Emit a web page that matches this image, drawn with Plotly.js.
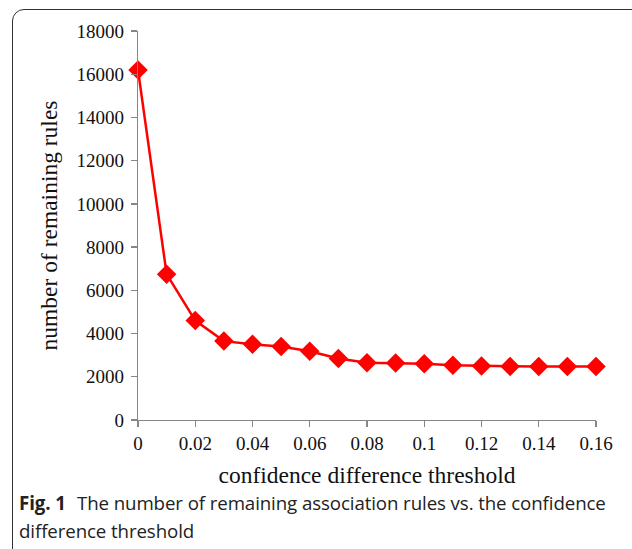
<!DOCTYPE html>
<html><head><meta charset="utf-8">
<script src="https://cdn.plot.ly/plotly-3.0.1.min.js"></script>
<style>
html,body{margin:0;padding:0;background:#fff;}
#wrap{position:relative;width:632px;height:549px;overflow:hidden;}
#frame{position:absolute;left:12px;top:9px;width:700px;height:600px;border:1.3px solid #333;border-radius:12px;box-sizing:border-box;}
#chart{position:absolute;left:0;top:0;}
.cap{position:absolute;font-family:"Open Sans",sans-serif;font-size:18.7px;line-height:28px;color:#222;white-space:nowrap;letter-spacing:-0.1px;}
</style></head>
<body><div id="wrap"><div id="frame"></div><div id="chart"></div>
<span class="cap" style="left:19px;top:489px;font-weight:bold;">Fig. 1</span>
<span class="cap" style="left:77px;top:489px;">The number of remaining association rules vs. the confidence</span>
<span class="cap" style="left:19px;top:517px;">difference threshold</span>
</div>
<script>
const thresholds = [0, 0.01, 0.02, 0.03, 0.04, 0.05, 0.06, 0.07, 0.08, 0.09, 0.10, 0.11, 0.12, 0.13, 0.14, 0.15, 0.16];
const remainingRules = [16200, 6750, 4600, 3650, 3500, 3400, 3180, 2850, 2650, 2640, 2600, 2530, 2500, 2480, 2470, 2470, 2470];
const xTitle = "confidence difference threshold";
const yTitle = "number of remaining rules";

const trace = {
  x: thresholds, y: remainingRules, type: "scatter", mode: "lines+markers",
  line: {color: "#ff0000", width: 2.5},
  marker: {symbol: "diamond", size: 15, color: "#ff0000"},
  cliponaxis: false
};
const serif = "Liberation Serif, Times New Roman, serif";
const axisFont = {family: serif, size: 19, color: "#111"};
const layout = {
  width: 632, height: 549,
  margin: {l: 138, r: 36, t: 31, b: 128.5},
  paper_bgcolor: "rgba(0,0,0,0)", plot_bgcolor: "rgba(0,0,0,0)",
  showlegend: false,
  xaxis: {
    range: [0, 0.16], dtick: 0.02, tick0: 0, showgrid: false, zeroline: false,
    showline: true, linecolor: "#868686", linewidth: 1.3,
    ticks: "outside", ticklen: 6, tickcolor: "#868686", tickwidth: 1.3,
    tickfont: axisFont,
    title: {text: xTitle, font: {family: serif, size: 23.5, color: "#111"}, standoff: 13}
  },
  yaxis: {
    range: [0, 18000], dtick: 2000, tickformat: "d", showgrid: false, zeroline: false,
    showline: true, linecolor: "#868686", linewidth: 1.3,
    ticks: "outside", ticklen: 6, tickcolor: "#868686", tickwidth: 1.3,
    ticklabelstandoff: 3,
    tickfont: axisFont,
    title: {text: yTitle, font: {family: serif, size: 23.5, color: "#111"}, standoff: 12}
  }
};
Plotly.newPlot("chart", [trace], layout, {displayModeBar: false, staticPlot: true});
</script></body></html>
